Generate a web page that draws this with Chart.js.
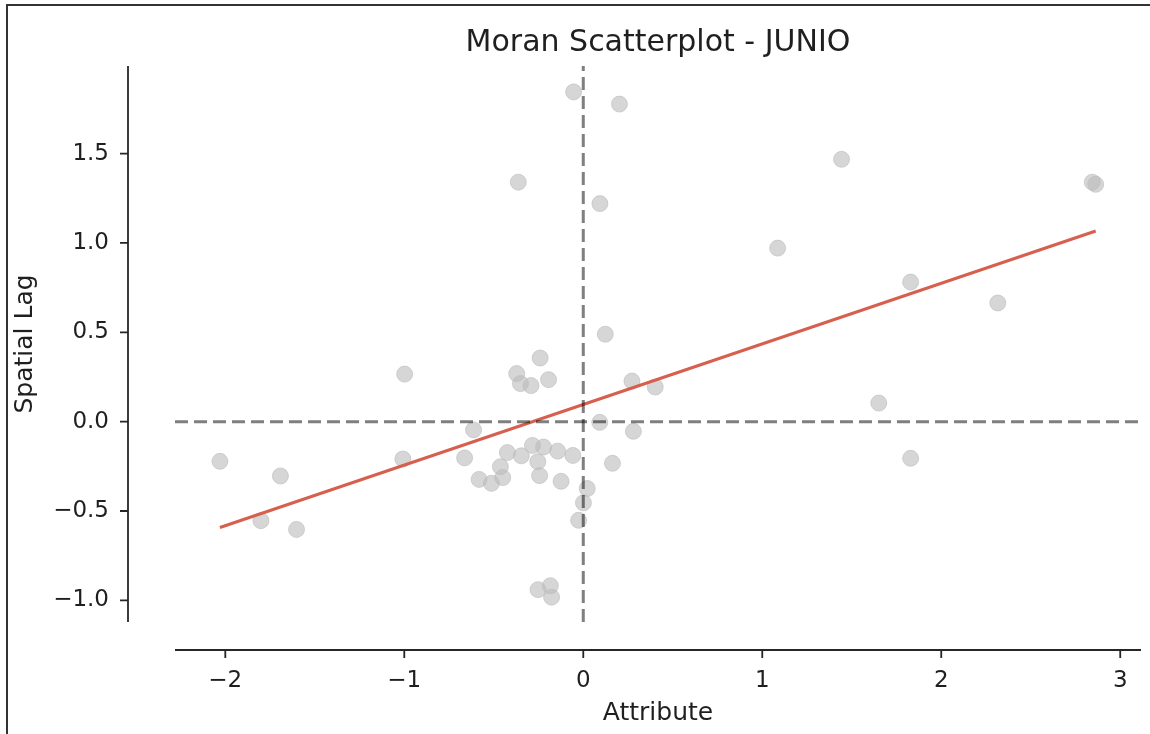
<!DOCTYPE html>
<html>
<head>
<meta charset="utf-8">
<title>Moran Scatterplot - JUNIO</title>
<script src="https://cdn.jsdelivr.net/npm/chart.js@4/dist/chart.umd.min.js"></script>
<style>
  html, body { margin: 0; padding: 0; background: #fff; }
  #wrap { position: relative; width: 1150px; height: 734px; overflow: hidden; }
  #c { position: absolute; left: 0; top: 0; }
  #frame {
    position: absolute; left: 6px; top: 4px; width: 1200px; height: 800px;
    border-left: 2px solid #333; border-top: 2px solid #333; pointer-events: none;
  }
</style>
</head>
<body>
<div id="wrap">
  <canvas id="c" width="1150" height="734"></canvas>
  <div id="frame"></div>
</div>
<script>
// Standardised attribute values (z) for each unit
const attribute = [
  -0.054, 0.202, -0.363, 0.093, 1.443, 2.844, 2.863, 1.086, 1.829, 2.316, 1.651, 1.829,
  -2.030, -1.692, -1.801, -1.602, -0.998, -1.008, -0.663, -0.613, -0.582,
  0.123, -0.241, -0.372, -0.351, -0.292, -0.194, 0.272, 0.402, 0.092, 0.280,
  -0.424, -0.346, -0.284, -0.222, -0.143, -0.058, -0.254, -0.463, -0.450, -0.513,
  -0.244, -0.124, 0.163, 0.022, 0.001, -0.026, -0.253, -0.184, -0.177
];
// Spatial lag of the standardised attribute
const spatialLag = [
  1.845, 1.777, 1.340, 1.220, 1.468, 1.340, 1.328, 0.971, 0.781, 0.664, 0.104, -0.205,
  -0.222, -0.304, -0.554, -0.603, 0.266, -0.209, -0.203, -0.046, -0.323,
  0.489, 0.356, 0.269, 0.213, 0.202, 0.235, 0.227, 0.194, -0.004, -0.054,
  -0.173, -0.191, -0.133, -0.142, -0.165, -0.189, -0.224, -0.252, -0.313, -0.345,
  -0.302, -0.334, -0.233, -0.374, -0.454, -0.552, -0.940, -0.918, -0.982
];
// Fitted regression line (slope = Moran's I)
const fitIntercept = 0.096;
const fitSlope = 0.339;

const xTicks = [-2, -1, 0, 1, 2, 3];
const yTicks = [-1.0, -0.5, 0.0, 0.5, 1.0, 1.5];
const xRange = [-2.281, 3.116];
const yRange = [-1.121, 1.990];

const FONT = "'DejaVu Sans', 'Liberation Sans', sans-serif";
const INK = '#1f1f1f';
const minus = s => s.replace('-', '\u2212');

const points = attribute.map((x, i) => ({ x, y: spatialLag[i] }));
const xMin = Math.min(...attribute), xMax = Math.max(...attribute);
const fitLine = [xMin, xMax].map(x => ({ x, y: fitIntercept + fitSlope * x }));

// Matplotlib-style spines, pushed away from the plotting area
const SPINE_OFFSET_LEFT = 47, SPINE_OFFSET_BOTTOM = 28, TICK_LEN = 8;
const offsetSpines = {
  id: 'offsetSpines',
  afterDraw(chart) {
    const { ctx, chartArea: a, scales } = chart;
    const lx = a.left - SPINE_OFFSET_LEFT, by = a.bottom + SPINE_OFFSET_BOTTOM;
    ctx.save();
    ctx.strokeStyle = '#262626';
    ctx.lineWidth = 1.8;
    ctx.lineCap = 'butt';
    ctx.beginPath();
    ctx.moveTo(lx, a.top); ctx.lineTo(lx, a.bottom);
    ctx.moveTo(a.left, by); ctx.lineTo(a.right, by);
    scales.y.ticks.forEach(t => {
      const py = scales.y.getPixelForValue(t.value);
      ctx.moveTo(lx - TICK_LEN, py); ctx.lineTo(lx, py);
    });
    scales.x.ticks.forEach(t => {
      const px = scales.x.getPixelForValue(t.value);
      ctx.moveTo(px, by); ctx.lineTo(px, by + TICK_LEN);
    });
    ctx.stroke();
    ctx.restore();
  }
};

new Chart(document.getElementById('c'), {
  type: 'scatter',
  data: {
    datasets: [
      {
        label: 'x = 0',
        data: [{ x: 0, y: yRange[0] }, { x: 0, y: yRange[1] }],
        showLine: true, pointRadius: 0, borderColor: 'rgba(0,0,0,0.5)',
        borderWidth: 3, borderDash: [13, 6], order: 0
      },
      {
        label: 'y = 0',
        data: [{ x: xRange[0], y: 0 }, { x: xRange[1], y: 0 }],
        showLine: true, pointRadius: 0, borderColor: 'rgba(0,0,0,0.5)',
        borderWidth: 3, borderDash: [13, 6], order: 0
      },
      {
        label: 'fit',
        data: fitLine,
        showLine: true, pointRadius: 0, borderColor: '#d6604d',
        borderWidth: 3, order: 1
      },
      {
        label: 'units',
        data: points,
        pointRadius: 8, pointBorderWidth: 1,
        backgroundColor: 'rgba(186,186,186,0.6)',
        borderColor: 'rgba(186,186,186,0.6)',
        order: 2
      }
    ]
  },
  options: {
    responsive: false,
    animation: false,
    devicePixelRatio: 1,
    events: [],
    layout: { padding: { left: 0, right: 7, top: 0, bottom: 0 } },
    plugins: {
      legend: { display: false },
      tooltip: { enabled: false },
      title: {
        display: true,
        text: 'Moran Scatterplot - JUNIO',
        color: INK,
        fullSize: false,
        font: { family: FONT, size: 30, weight: 'normal' },
        padding: { top: 25.5, bottom: 4.5 }
      }
    },
    scales: {
      x: {
        type: 'linear', position: 'bottom',
        min: xRange[0], max: xRange[1],
        // tick marks are drawn by the spine plugin; tickLength only spaces the labels
        grid: { display: false, drawTicks: true, tickLength: 42 },
        border: { display: false },
        afterBuildTicks: s => { s.ticks = xTicks.map(v => ({ value: v })); },
        afterFit: s => { s.height = 112; },
        ticks: {
          color: INK, padding: 3, maxRotation: 0, autoSkip: false,
          font: { family: FONT, size: 23 },
          callback: v => minus(String(v))
        },
        title: {
          display: true, text: 'Attribute', color: INK,
          font: { family: FONT, size: 25 },
          padding: { top: 0, bottom: 5.5 }
        }
      },
      y: {
        type: 'linear', position: 'left',
        min: yRange[0], max: yRange[1],
        grid: { display: false, drawTicks: true, tickLength: 63 },
        border: { display: false },
        afterBuildTicks: s => { s.ticks = yTicks.map(v => ({ value: v })); },
        afterFit: s => { s.width = 175; },
        ticks: {
          color: INK, padding: 3, autoSkip: false,
          font: { family: FONT, size: 23 },
          callback: v => minus(v.toFixed(1))
        },
        title: {
          display: true, text: 'Spatial Lag', color: INK,
          font: { family: FONT, size: 25 },
          padding: { top: 10.8, bottom: 0 }
        }
      }
    }
  },
  plugins: [offsetSpines]
});
</script>
</body>
</html>
